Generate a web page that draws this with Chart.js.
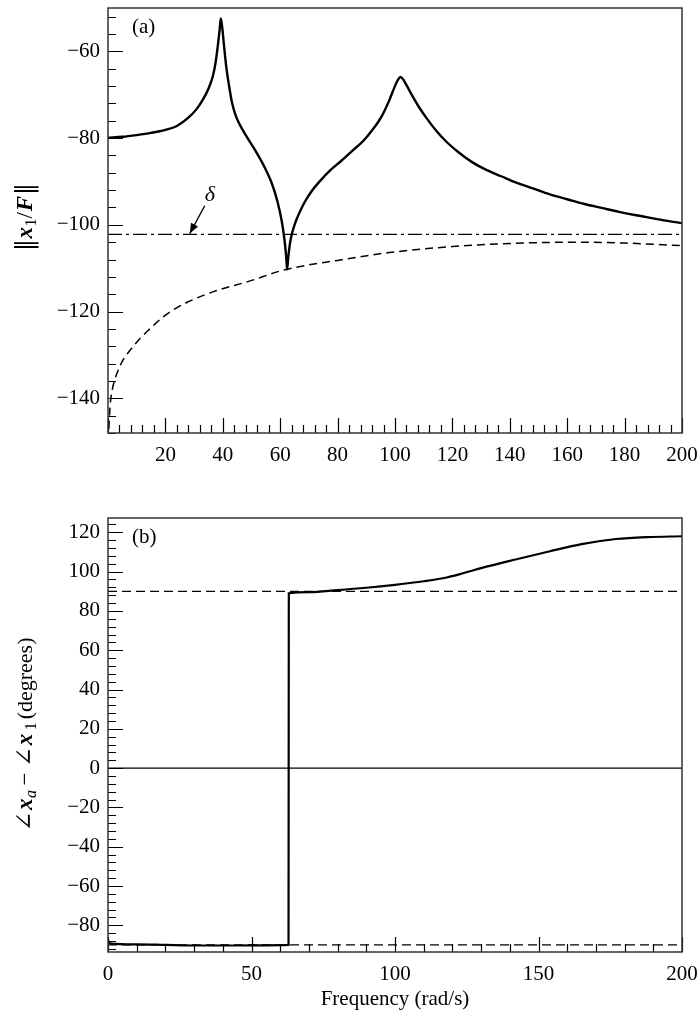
<!DOCTYPE html>
<html><head><meta charset="utf-8">
<script src="https://cdn.jsdelivr.net/npm/chart.js@4.4.1/dist/chart.umd.min.js"></script>
<style>
html,body{margin:0;padding:0;background:#fff}
body{width:699px;height:1015px;overflow:hidden;position:relative}
canvas{position:absolute;left:0}
#c1{top:0}
#c2{top:470px}
</style></head><body>
<canvas id="c1" width="699" height="470"></canvas>
<canvas id="c2" width="699" height="545"></canvas>
<script>
// ---------- data ----------
const magFreq   = [0,5,10,15,20,24,28,31,33,35,36.5,37.5,38.3,38.9,39.3,39.8,40.4,41.2,42.2,43.2,44.5,46,48,51,54,57,59,60.5,61.5,62.1,62.4,62.8,63.6,65,66.5,68.5,71,74,77.5,81,85,89,92.5,95.5,98,99.8,101,101.9,102.8,104,106,108.5,111,114,118,122,127,132,137,142,148,154,160,166,172,178,184,190,195,200];
const magValues = [-79.9,-79.7,-79.3,-78.8,-78.1,-77.2,-75.3,-73.2,-71.2,-68.6,-65.8,-62.5,-58.5,-55,-52.4,-54.5,-58.5,-63.5,-68,-71.8,-74.8,-77,-79.3,-82.5,-86,-90.3,-94.5,-99,-103.5,-107.5,-110.3,-107.5,-103.5,-100,-97.5,-94.8,-92.2,-89.8,-87.4,-85.4,-83,-80.6,-77.8,-74.8,-71.3,-68.3,-66.6,-65.9,-66.4,-67.8,-70.2,-73,-75.4,-78,-80.9,-83.2,-85.6,-87.4,-88.8,-90.2,-91.6,-93,-94.1,-95.2,-96.1,-97,-97.8,-98.5,-99.1,-99.6];
const boundFreq   = [0.3,0.7,1.5,2.4,3.5,5.2,7,8.7,11,13.6,16,19.1,23,27.8,36.8,48.7,62,80,98,120,136,150,165,180,200];
const boundValues = [-147,-142,-138,-135.6,-133.6,-131.2,-129.5,-128.1,-126.3,-124.6,-123.1,-121.3,-119.5,-117.8,-115.4,-113.1,-110.3,-108.2,-106.4,-105,-104.4,-104.1,-104,-104.2,-104.8];
const deltaLevel = -102.2;
const deltaFreq  = [0,200];

const phaseFreq   = [0,1,10,20,30,45,55,62.9,63.0,70,80,90,100,110,118,124,130,142,154,165,177,188,200];
const phaseValues = [-87.8,-89.3,-89.7,-90,-90.3,-90.3,-90.2,-90,89.0,89.6,90.6,91.8,93.3,95.1,97,99.3,101.8,106.2,110.4,114,116.6,117.6,118];
const phaseRefLevels = [90,-90,0];

const topXTicks    = [20,40,60,80,100,120,140,160,180,200];
const topYTicks    = [-140,-120,-100,-80,-60];
const bottomXTicks = [0,50,100,150,200];
const bottomYTicks = [-80,-60,-40,-20,0,20,40,60,80,100,120];
const topRange    = {xMin:0, xMax:200, yMin:-148, yMax:-50, xMinor:4, xMajor:20, yMinor:4, yMajor:20};
const bottomRange = {xMin:0, xMax:200, yMin:-93.6, yMax:127.3, xMinor:10, xMajor:50, yMinor:4, yMajor:20};

// ---------- helpers ----------
const SERIF = "'Liberation Serif','DejaVu Serif',serif";
const pts = (xs, ys) => xs.map((x,i)=>({x, y:ys[i]}));
const fmt = v => String(v).replace('-', '\u2212');

function drawTicksAndBox(chart, r){
  const {ctx, chartArea:a, scales:{x,y}} = chart;
  ctx.save();
  ctx.strokeStyle='#000'; ctx.lineWidth=1.2;
  ctx.beginPath();
  const isMaj = (v,m)=>Math.abs(v/m-Math.round(v/m))<1e-6;
  for(let v=Math.ceil(r.xMin/r.xMinor)*r.xMinor; v<=r.xMax+1e-9; v+=r.xMinor){
    const px=Math.round(x.getPixelForValue(v))+0.5;
    const len=isMaj(v,r.xMajor)?15:8;
    ctx.moveTo(px,a.bottom); ctx.lineTo(px,a.bottom-len);
  }
  for(let v=Math.ceil(r.yMin/r.yMinor)*r.yMinor; v<=r.yMax+1e-9; v+=r.yMinor){
    const py=Math.round(y.getPixelForValue(v))+0.5;
    const len=isMaj(v,r.yMajor)?15:8;
    ctx.moveTo(a.left,py); ctx.lineTo(a.left+len,py);
  }
  ctx.stroke();
  ctx.strokeStyle='#333'; ctx.lineWidth=1.5;
  ctx.strokeRect(a.left, a.top, a.right-a.left, a.bottom-a.top);
  ctx.restore();
}

// draws a rotated (bottom-to-top) label made of styled pieces, centred at (cx,cy)
function drawRotatedLabel(ctx, cx, cy, pieces){
  ctx.save();
  ctx.translate(cx, cy);
  ctx.rotate(-Math.PI/2);
  ctx.fillStyle='#000';
  ctx.textBaseline='alphabetic';
  let total=0;
  pieces.forEach(p=>{ctx.font=p.font; p.w=ctx.measureText(p.t).width+(p.gap||0); total+=p.w;});
  let xx=-total/2;
  pieces.forEach(p=>{ctx.font=p.font; ctx.fillText(p.t, xx+(p.gap||0)/2, 7+(p.dy||0)); xx+=p.w;});
  ctx.restore();
}

const baseScaleX = (r, ticksArr, h, title) => ({
  type:'linear', min:r.xMin, max:r.xMax, position:'bottom',
  grid:{display:false, drawTicks:false}, border:{display:false},
  afterBuildTicks:s=>{s.ticks=ticksArr.map(v=>({value:v}));},
  afterFit:s=>{s.height=h; s.paddingLeft=0; s.paddingRight=0;},
  ticks:{padding:10, color:'#000', font:{family:SERIF, size:21}, maxRotation:0, autoSkip:false, callback:v=>fmt(v)},
  title: title || {display:false}
});
const baseScaleY = (r, ticksArr) => ({
  type:'linear', min:r.yMin, max:r.yMax,
  grid:{display:false, drawTicks:false}, border:{display:false},
  afterBuildTicks:s=>{s.ticks=ticksArr.map(v=>({value:v}));},
  afterFit:s=>{s.width=108; s.paddingTop=0; s.paddingBottom=0;},
  ticks:{padding:8, color:'#000', font:{family:SERIF, size:21}, autoSkip:false, callback:v=>fmt(v)}
});
const common = {
  responsive:false, animation:false, devicePixelRatio:1,
  plugins:{legend:{display:false}, tooltip:{enabled:false}},
  elements:{point:{radius:0}}
};

// ---------- chart (a) ----------
new Chart(document.getElementById('c1'), {
  type:'scatter',
  data:{datasets:[
    {data:pts(magFreq,magValues), showLine:true, borderColor:'#000', borderWidth:2.4, cubicInterpolationMode:'monotone'},
    {data:pts(boundFreq,boundValues), showLine:true, borderColor:'#000', borderWidth:1.5, borderDash:[8,5], cubicInterpolationMode:'monotone'},
    {data:pts(deltaFreq,deltaFreq.map(()=>deltaLevel)), showLine:true, borderColor:'#000', borderWidth:1.3, borderDash:[14,4,3,4]}
  ]},
  options:Object.assign({}, common, {
    layout:{padding:{left:0,right:17,top:8,bottom:0}},
    scales:{x:baseScaleX(topRange, topXTicks, 37), y:baseScaleY(topRange, topYTicks)}
  }),
  plugins:[{id:'decorA', afterDraw(chart){
    drawTicksAndBox(chart, topRange);
    const {ctx, chartArea:a, scales:{x,y}} = chart;
    ctx.save();
    ctx.fillStyle='#000'; ctx.font='21px '+SERIF; ctx.textBaseline='middle'; ctx.textAlign='left';
    ctx.fillText('(a)', a.left+24, a.top+19);
    // delta annotation
    ctx.font='italic 22px '+SERIF; ctx.textAlign='center';
    ctx.fillText('\u03B4', x.getPixelForValue(35.5), y.getPixelForValue(-93.1));
    const x1=x.getPixelForValue(33.7), y1=y.getPixelForValue(-95.6);
    const x2=x.getPixelForValue(28.5), y2=y.getPixelForValue(-102.0);
    ctx.strokeStyle='#000'; ctx.lineWidth=1.4;
    ctx.beginPath(); ctx.moveTo(x1,y1); ctx.lineTo(x2,y2); ctx.stroke();
    const ang=Math.atan2(y2-y1,x2-x1), L=10, W=4;
    ctx.beginPath();
    ctx.moveTo(x2,y2);
    ctx.lineTo(x2-L*Math.cos(ang)+W*Math.sin(ang), y2-L*Math.sin(ang)-W*Math.cos(ang));
    ctx.lineTo(x2-L*Math.cos(ang)-W*Math.sin(ang), y2-L*Math.sin(ang)+W*Math.cos(ang));
    ctx.closePath(); ctx.fill();
    ctx.restore();
    drawRotatedLabel(ctx, 25, 217, [
      {t:'\u2016', font:"24px 'DejaVu Serif',serif"},
      {t:'x', font:'italic bold 23px '+SERIF, gap:1},
      {t:'1', font:'16px '+SERIF, dy:4},
      {t:'/', font:'23px '+SERIF},
      {t:'F', font:'italic bold 23px '+SERIF, gap:2},
      {t:'\u2016', font:"24px 'DejaVu Serif',serif"}
    ]);
  }}]
});

// ---------- chart (b) ----------
new Chart(document.getElementById('c2'), {
  type:'scatter',
  data:{datasets:[
    {data:pts(phaseFreq,phaseValues), showLine:true, borderColor:'#000', borderWidth:2.2, cubicInterpolationMode:'monotone'},
    {data:pts([0,200],[phaseRefLevels[0],phaseRefLevels[0]]), showLine:true, borderColor:'#000', borderWidth:1.3, borderDash:[9,5]},
    {data:pts([0,200],[phaseRefLevels[1],phaseRefLevels[1]]), showLine:true, borderColor:'#000', borderWidth:1.3, borderDash:[9,5]},
    {data:pts([0,200],[phaseRefLevels[2],phaseRefLevels[2]]), showLine:true, borderColor:'#000', borderWidth:1.2}
  ]},
  options:Object.assign({}, common, {
    layout:{padding:{left:0,right:17,top:48,bottom:0}},
    scales:{
      x:baseScaleX(bottomRange, bottomXTicks, 63, {display:true, text:'Frequency (rad/s)', color:'#000', font:{family:SERIF, size:21}, padding:{top:0,bottom:3}}),
      y:baseScaleY(bottomRange, bottomYTicks)
    }
  }),
  plugins:[{id:'decorB', afterDraw(chart){
    drawTicksAndBox(chart, bottomRange);
    const {ctx, chartArea:a} = chart;
    ctx.save();
    ctx.fillStyle='#000'; ctx.font='21px '+SERIF; ctx.textBaseline='middle'; ctx.textAlign='left';
    ctx.fillText('(b)', a.left+24, a.top+19);
    ctx.restore();
    drawRotatedLabel(ctx, 25, 265, [
      {t:'\u2220', font:"24px 'DejaVu Serif',serif", gap:2},
      {t:'x', font:'italic bold 23px '+SERIF, gap:1},
      {t:'a', font:'italic 16px '+SERIF, dy:4},
      {t:'\u2212', font:'23px '+SERIF, gap:9},
      {t:'\u2220', font:"24px 'DejaVu Serif',serif", gap:2},
      {t:'x', font:'italic bold 23px '+SERIF, gap:1},
      {t:'1', font:'16px '+SERIF, dy:4, gap:6},
      {t:'(degrees)', font:'22px '+SERIF}
    ]);
  }}]
});
</script>
</body></html>
